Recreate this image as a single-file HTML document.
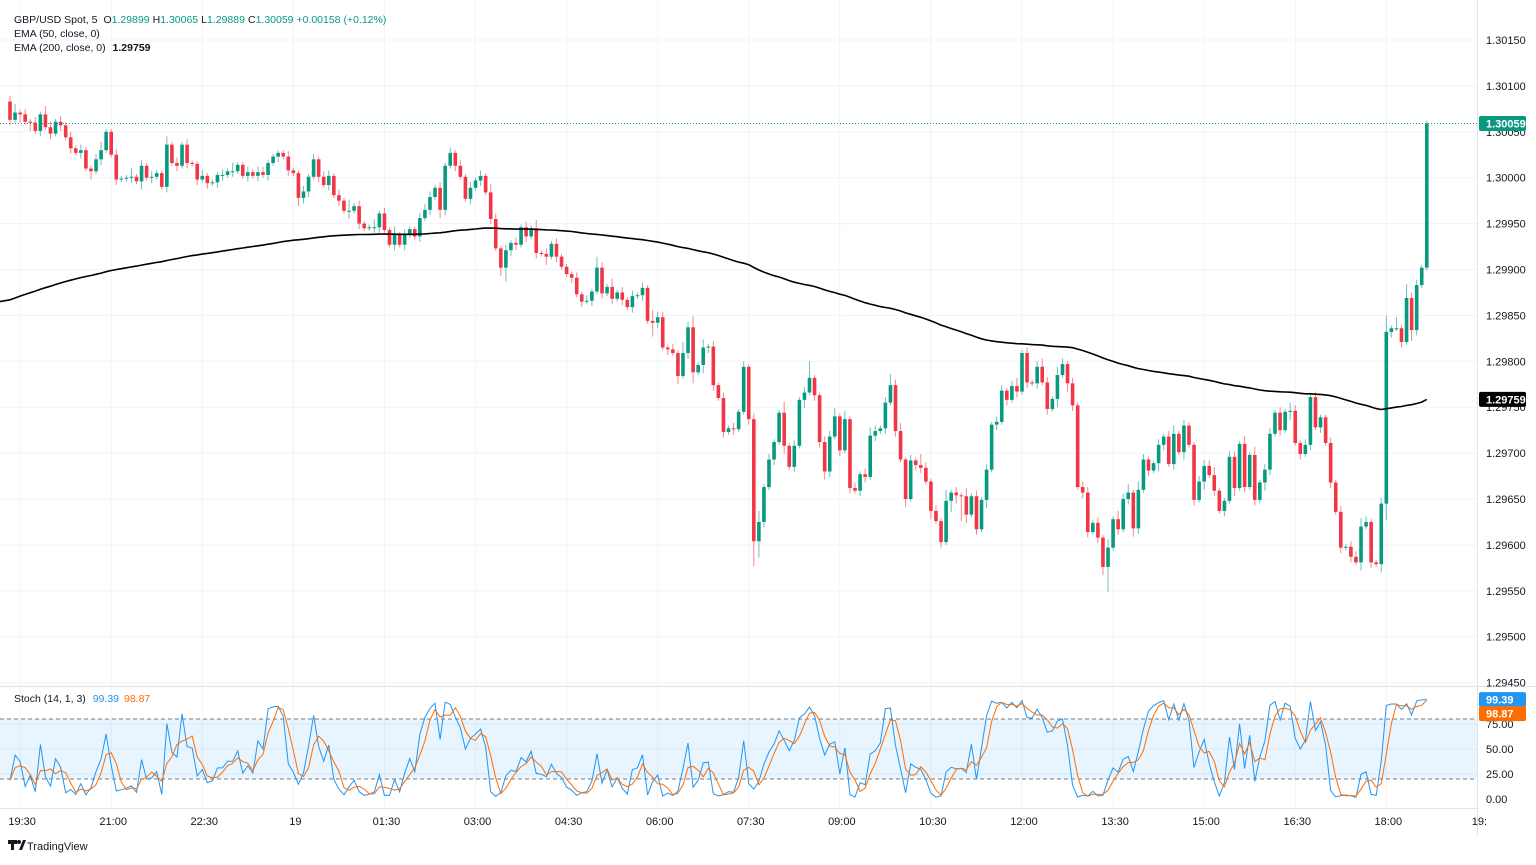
<!DOCTYPE html>
<html><head><meta charset="utf-8">
<style>
html,body{margin:0;padding:0;background:#fff;}
body{width:1536px;height:860px;overflow:hidden;font-family:"Liberation Sans",sans-serif;}
svg text{font-family:"Liberation Sans",sans-serif;}
</style></head>
<body>
<svg id="chart" width="1536" height="860" xmlns="http://www.w3.org/2000/svg"></svg>
<script>
const closes=[1.30063,1.30071,1.30069,1.30061,1.30060,1.30051,1.30069,1.30055,1.30048,1.30061,
1.30057,1.30044,1.30032,1.30027,1.30030,1.30010,1.30007,1.30020,1.30030,1.30050,
1.30025,1.29998,1.29999,1.30000,1.30001,1.29996,1.30013,1.30000,1.30001,1.30005,
1.29990,1.30036,1.30016,1.30013,1.30036,1.30016,1.30015,1.29998,1.30002,1.29994,
1.29995,1.30003,1.30003,1.30007,1.30007,1.30014,1.30002,1.30006,1.30002,1.30006,
1.30003,1.30016,1.30023,1.30027,1.30023,1.30008,1.30005,1.29978,1.29985,1.30001,
1.30020,1.30001,1.29992,1.30002,1.29981,1.29975,1.29964,1.29964,1.29969,1.29950,
1.29945,1.29946,1.29946,1.29961,1.29943,1.29927,1.29938,1.29927,1.29938,1.29944,
1.29936,1.29956,1.29965,1.29979,1.29989,1.29965,1.30013,1.30027,1.30013,1.30001,
1.29977,1.29989,1.29997,1.30002,1.29984,1.29955,1.29923,1.29902,1.29921,1.29929,
1.29927,1.29946,1.29936,1.29945,1.29918,1.29917,1.29914,1.29928,1.29914,1.29903,
1.29895,1.29891,1.29873,1.29865,1.29866,1.29876,1.29902,1.29874,1.29881,1.29868,
1.29875,1.29867,1.29859,1.29871,1.29872,1.29880,1.29844,1.29842,1.29848,1.29815,
1.29813,1.29809,1.29784,1.29809,1.29837,1.29788,1.29796,1.29815,1.29816,1.29774,
1.29760,1.29723,1.29727,1.29726,1.29745,1.29794,1.29737,1.29604,1.29625,1.29663,
1.29693,1.29712,1.29744,1.29708,1.29685,1.29708,1.29758,1.29766,1.29782,1.29763,
1.29712,1.29680,1.29718,1.29740,1.29703,1.29737,1.29662,1.29659,1.29677,1.29674,
1.29719,1.29724,1.29727,1.29755,1.29774,1.29724,1.29693,1.29650,1.29692,1.29687,
1.29684,1.29669,1.29637,1.29626,1.29603,1.29648,1.29657,1.29654,1.29653,1.29633,
1.29653,1.29617,1.29649,1.29682,1.29731,1.29734,1.29768,1.29758,1.29773,1.29767,
1.29809,1.29777,1.29776,1.29794,1.29777,1.29748,1.29759,1.29785,1.29797,1.29776,
1.29752,1.29663,1.29657,1.29614,1.29624,1.29608,1.29576,1.29597,1.29628,1.29617,
1.29650,1.29657,1.29618,1.29660,1.29693,1.29681,1.29689,1.29709,1.29718,1.29688,
1.29721,1.29701,1.29730,1.29709,1.29649,1.29669,1.29686,1.29676,1.29659,1.29637,
1.29648,1.29696,1.29662,1.29710,1.29663,1.29698,1.29649,1.29668,1.29682,1.29721,
1.29744,1.29725,1.29745,1.29746,1.29711,1.29699,1.29709,1.29761,1.29728,1.29739,
1.29711,1.29668,1.29636,1.29597,1.29598,1.29587,1.29581,1.29620,1.29625,1.29581,
1.29579,1.29645,1.29832,1.29836,1.29836,1.29821,1.29869,1.29834,1.29883,1.29902,
1.30059];
const firstOpen=1.30083;
const upWick="2312121321"+"2121211231"+"1211312121"+"1312121121"+"1121311212"+"2111121121"+"2122121412"+"1131213121"+"1222121212"+"1212132121"+"2121312121"+"1121214213"+"1212121422"+"1214241312"+"1212121241"+"2114121261"+"1223131212"+"3212423121"+"4212141213"+"1212122123"+"1212321321"+"2122121313"+"2313211212"+"3121122231"+"1221313122"+"1213212121"+"1212122321"+"1261415221"+"1";
const downWick="2131312121"+"2121213121"+"1211213121"+"1212121212"+"1221211212"+"1212121322"+"1212121312"+"1122112121"+"1212132121"+"1212121352"+"2121213121"+"1212121212"+"1212121521"+"2131241322"+"1212112962"+"1213121312"+"2321212122"+"1212121312"+"2131214393"+"1213121212"+"1212121313"+"2122123912"+"1232121321"+"2131213121"+"2131212132"+"1213121212"+"1212121312"+"1362121421"+"1";
const emaSeed=1.29865;
const priceTicks=[1.3015,1.301,1.3005,1.3,1.2995,1.299,1.2985,1.298,1.2975,1.297,1.2965,1.296,1.2955,1.295,1.2945];
const stochTicks=[75,50,25,0];
const timeLabels=["19:30","21:00","22:30","19","01:30","03:00","04:30","06:00","07:30","09:00","10:30","12:00","13:30","15:00","16:30","18:00","19:"];
const timeBars=[2,20,38,56,74,92,110,128,146,164,182,200,218,236,254,272,290];

const svg=document.getElementById('chart');
const NS='http://www.w3.org/2000/svg';
function el(tag,attrs,parent){const e=document.createElementNS(NS,tag);for(const k in attrs)e.setAttribute(k,attrs[k]);(parent||svg).appendChild(e);return e;}
const xOf=i=>10+i*5.06;
const yOf=p=>40+(1.3015-p)/0.0005*45.9;
const ySt=v=>799-v*1.0;
const GREEN='#089981',RED='#f23645';

const grid=el('g',{});


priceTicks.forEach(p=>{el('line',{x1:0,x2:1477,y1:yOf(p),y2:yOf(p),stroke:'#f0f3fa','stroke-width':1},grid);});
timeBars.forEach(b=>{el('line',{x1:xOf(b),x2:xOf(b),y1:0,y2:808,stroke:'#f0f3fa','stroke-width':1},grid);});
[75,50,25].forEach(v=>{el('line',{x1:0,x2:1477,y1:ySt(v),y2:ySt(v),stroke:'#f0f3fa'},grid);});

const band=el('rect',{x:0,y:ySt(80),width:1477,height:ySt(20)-ySt(80),fill:'rgba(33,150,243,0.1)'});


[80,20].forEach(v=>{const l=el('line',{x1:0,x2:1477,y1:ySt(v),y2:ySt(v),stroke:'#787b86','stroke-dasharray':'4,3','stroke-width':1});

});

el('line',{x1:0,x2:1536,y1:686.5,y2:686.5,stroke:'#e0e3eb'});
el('line',{x1:0,x2:1477,y1:808.5,y2:808.5,stroke:'#e0e3eb'});
el('line',{x1:1477.5,x2:1477.5,y1:0,y2:835,stroke:'#e0e3eb'});

const opens=[],highs=[],lows=[];
for(let i=0;i<closes.length;i++){
  const o=i===0?firstOpen:closes[i-1];const c=closes[i];
  const uw=parseInt(upWick[i]||'1')*0.00003, dw=parseInt(downWick[i]||'1')*0.00003;
  opens.push(o);highs.push(Math.max(o,c)+uw);lows.push(Math.min(o,c)-dw);
}
const cg=el('g',{});


for(let i=0;i<closes.length;i++){
  const o=opens[i],c=closes[i],col=c>=o?GREEN:RED,x=xOf(i);
  const g=el('g',{},cg);
  
  
  el('line',{x1:x,x2:x,y1:yOf(highs[i]),y2:yOf(lows[i]),stroke:col,'stroke-width':1,'stroke-opacity':0.6},g);
  const yt=Math.min(yOf(o),yOf(c));const h=Math.max(1,Math.abs(yOf(o)-yOf(c)));
  el('rect',{x:x-1.8,y:yt,width:3.6,height:h,fill:col},g);
}

const ema=[];let e=emaSeed;const k=2/201;
for(let i=0;i<closes.length;i++){e=e+(closes[i]-e)*k;ema.push(e);}
const emaPath=el('path',{d:'M0,'+yOf(emaSeed).toFixed(1)+ema.map((v,i)=>'L'+xOf(i).toFixed(1)+','+yOf(v).toFixed(1)).join(''),fill:'none',stroke:'#000','stroke-width':1.6});



const lp=el('line',{x1:0,x2:1477,y1:yOf(closes[closes.length-1]),y2:yOf(closes[closes.length-1]),stroke:GREEN,'stroke-dasharray':'1,2','stroke-width':1});



const K=[],D=[];
for(let i=0;i<closes.length;i++){
  const s=Math.max(0,i-13);let hh=-1,ll=9;
  for(let j=s;j<=i;j++){hh=Math.max(hh,highs[j]);ll=Math.min(ll,lows[j]);}
  K.push(hh>ll?100*(closes[i]-ll)/(hh-ll):50);
  const a=K.slice(Math.max(0,i-2),i+1);D.push(a.reduce((x,y)=>x+y,0)/a.length);
}
const kl=el('path',{d:K.map((v,i)=>(i?'L':'M')+xOf(i).toFixed(1)+','+ySt(v).toFixed(1)).join(''),fill:'none',stroke:'#2196f3','stroke-width':1});


const dl=el('path',{d:D.map((v,i)=>(i?'L':'M')+xOf(i).toFixed(1)+','+ySt(v).toFixed(1)).join(''),fill:'none',stroke:'#ff6d00','stroke-width':1});



const pa=el('g',{'font-size':11,fill:'#131722'});


priceTicks.forEach(p=>{const t=el('text',{x:1486,y:yOf(p)+4},pa);t.textContent=p.toFixed(5);});
stochTicks.forEach(v=>{const t=el('text',{x:1486,y:ySt(v)+4},pa);t.textContent=v.toFixed(2);});
function badge(y,bg,txt,name){const g=el('g',{});
 el('rect',{x:1479,y:y-7.5,width:47,height:15,fill:bg,rx:2},g);
 const t=el('text',{x:1486,y:y+4,'font-size':11,fill:'#fff','font-weight':'bold'},g);t.textContent=txt;}
const lastC=closes[closes.length-1];
badge(yOf(lastC),GREEN,lastC.toFixed(5),'last-price-label');
badge(yOf(ema[ema.length-1]),'#000',ema[ema.length-1].toFixed(5),'ema-price-label');
badge(ySt(K[K.length-1]),'#2196f3',K[K.length-1].toFixed(2),'stoch-k-label');
badge(Math.max(ySt(D[D.length-1]),ySt(K[K.length-1])+14),'#ff6d00',D[D.length-1].toFixed(2),'stoch-d-label');

const ta=el('g',{'font-size':11,fill:'#131722','text-anchor':'middle'});


timeLabels.forEach((s,i)=>{const t=el('text',{x:xOf(timeBars[i])+2,y:825},ta);t.textContent=s;});

const lg=el('g',{'font-size':10.5,fill:'#131722'});


const t1=el('text',{x:14,y:23},lg);
t1.innerHTML='GBP/USD Spot, 5<tspan dx="6">O</tspan><tspan fill="#089981">1.29899</tspan><tspan dx="3">H</tspan><tspan fill="#089981">1.30065</tspan><tspan dx="3">L</tspan><tspan fill="#089981">1.29889</tspan><tspan dx="3">C</tspan><tspan fill="#089981">1.30059 +0.00158 (+0.12%)</tspan>';
const t2=el('text',{x:14,y:37},lg);t2.textContent='EMA (50, close, 0)';
const t3=el('text',{x:14,y:51},lg);t3.innerHTML='EMA (200, close, 0) <tspan font-weight="bold" dx="4">'+ema[ema.length-1].toFixed(5)+'</tspan>';
const t4=el('text',{x:14,y:702},lg);
t4.innerHTML='Stoch (14, 1, 3) <tspan fill="#2196f3" dx="4">'+K[K.length-1].toFixed(2)+'</tspan><tspan fill="#ff6d00" dx="5">'+D[D.length-1].toFixed(2)+'</tspan>';

const lgo=el('g',{});


el('rect',{x:8,y:840,width:9,height:4,fill:'#131722'},lgo);
el('rect',{x:11,y:840,width:3,height:10,fill:'#131722'},lgo);
el('circle',{cx:19,cy:842,r:2,fill:'#131722'},lgo);
el('path',{d:'M19,850 L23,840 L26,840 L22,850 Z',fill:'#131722'},lgo);
const lt=el('text',{x:27,y:850,'font-size':11,fill:'#131722'},lgo);lt.textContent='TradingView';
</script>
</body></html>
